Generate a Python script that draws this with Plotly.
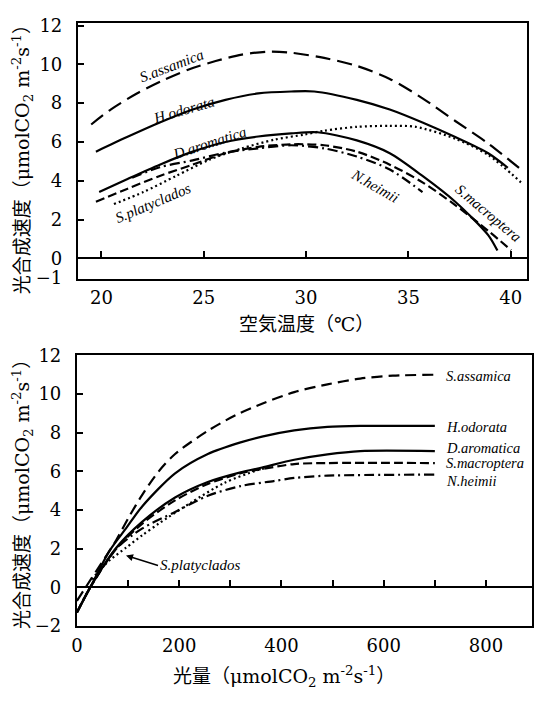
import plotly.graph_objects as go

W, H = 534, 702

# ---------------- data: temperature response (top) ----------------
t_assamica_x = [19.5, 20.45, 21.73, 23.0, 24.3, 25.58, 26.86, 28.14, 29.27, 30.88, 32.48, 34.09, 35.69, 37.29, 38.9, 40.5]
t_assamica_y = [6.9, 7.67, 8.5, 9.17, 9.75, 10.17, 10.5, 10.65, 10.6, 10.33, 9.92, 9.25, 8.25, 7.08, 5.92, 4.58]

t_odorata_x = [19.73, 21.25, 22.85, 24.46, 26.06, 27.66, 29.27, 30.4, 32.48, 34.09, 35.69, 37.29, 38.9, 39.86]
t_odorata_y = [5.5, 6.25, 7.0, 7.67, 8.17, 8.5, 8.6, 8.6, 8.17, 7.67, 7.0, 6.25, 5.42, 4.67]

t_aromatica_x = [19.89, 21.25, 22.85, 24.46, 26.06, 27.66, 29.27, 30.56, 32.48, 34.09, 35.69, 37.29, 38.9, 39.35]
t_aromatica_y = [3.42, 4.08, 4.83, 5.5, 6.0, 6.28, 6.44, 6.5, 6.08, 5.42, 4.25, 2.92, 1.2, 0.4]

t_macroptera_x = [19.73, 21.25, 22.85, 24.46, 26.06, 27.66, 29.27, 30.88, 32.48, 34.09, 35.69, 37.29, 38.9, 40.02]
t_macroptera_y = [2.92, 3.58, 4.25, 4.83, 5.42, 5.75, 5.88, 5.83, 5.5, 4.83, 3.92, 2.75, 1.42, 0.42]

t_heimii_x = [21.5, 22.85, 24.46, 26.06, 27.66, 29.27, 30.88, 32.48, 34.09, 35.69]
t_heimii_y = [4.15, 4.7, 5.05, 5.45, 5.67, 5.83, 5.67, 5.25, 4.58, 3.42]

t_platyclados_x = [20.61, 22.05, 23.65, 25.26, 26.86, 28.46, 29.9, 30.88, 32.48, 34.09, 35.36, 37.29, 38.9, 40.5]
t_platyclados_y = [2.8, 3.42, 4.25, 5.08, 5.67, 6.12, 6.38, 6.58, 6.78, 6.83, 6.78, 6.17, 5.33, 3.92]

# ---------------- data: light response (bottom) ----------------
l_assamica_x = [0, 17, 48, 77, 103, 128, 160, 192, 256, 310, 362, 425, 490, 554, 618, 700]
l_assamica_y = [-0.7, 0.0, 1.25, 2.45, 3.7, 4.8, 6.0, 6.9, 8.1, 8.9, 9.5, 10.1, 10.5, 10.8, 10.95, 11.0]

l_odorata_x = [0, 26, 64, 96, 128, 192, 256, 320, 362, 425, 490, 554, 700]
l_odorata_y = [-1.3, 0.0, 1.9, 3.05, 4.2, 5.9, 6.9, 7.5, 7.8, 8.12, 8.3, 8.35, 8.35]

l_aromatica_x = [0, 26, 77, 128, 192, 256, 320, 362, 425, 490, 554, 700]
l_aromatica_y = [-1.3, 0.0, 2.05, 3.4, 4.65, 5.45, 5.95, 6.2, 6.6, 6.88, 7.05, 7.05]

l_macroptera_x = [0, 26, 77, 128, 192, 256, 320, 362, 425, 490, 700]
l_macroptera_y = [-1.3, 0.0, 2.0, 3.3, 4.5, 5.35, 5.9, 6.12, 6.38, 6.43, 6.43]

l_heimii_x = [0, 26, 77, 128, 192, 256, 320, 385, 425, 490, 700]
l_heimii_y = [-1.3, 0.0, 2.0, 3.05, 3.9, 4.74, 5.24, 5.5, 5.66, 5.78, 5.83]

l_platyclados_x = [30, 38, 64, 96, 128, 160, 224, 288, 352, 380]
l_platyclados_y = [0.4, 0.7, 1.4, 2.05, 2.7, 3.3, 4.4, 5.4, 6.05, 6.25]

# tick labels
t_xticks = [20, 25, 30, 35, 40]
t_yticks = [-1, 0, 2, 4, 6, 8, 10, 12]
l_xticks = [0, 200, 400, 600, 800]
l_xminor = [100, 200, 300, 400, 500, 600, 700, 800]
l_yticks = [-2, 0, 2, 4, 6, 8, 10, 12]

t_xrange = [18.85, 40.8]
t_yrange = [-1.05, 12.15]
l_xrange = [0, 890]
l_yrange = [-2, 12]

# ---------------- styles ----------------
LW = 2.2
styles = {
    "assamica_t": dict(dash="15px,7px"),
    "assamica_l": dict(dash="11px,6px"),
    "odorata": dict(dash="solid"),
    "aromatica": dict(dash="solid"),
    "macroptera": dict(dash="9px,4px"),
    "heimii": dict(dash="10px,4px,2px,4px"),
    "platyclados": dict(dash="2px,3px"),
}

fig = go.Figure()

def add(x, y, st, xa, ya):
    fig.add_trace(go.Scatter(x=x, y=y, mode="lines", xaxis=xa, yaxis=ya,
                             line=dict(color="black", width=LW, shape="spline",
                                       smoothing=0.8, **st),
                             hoverinfo="skip", showlegend=False))

add(t_assamica_x, t_assamica_y, styles["assamica_t"], "x", "y")
add(t_odorata_x, t_odorata_y, styles["odorata"], "x", "y")
add(t_aromatica_x, t_aromatica_y, styles["aromatica"], "x", "y")
add(t_macroptera_x, t_macroptera_y, styles["macroptera"], "x", "y")
add(t_heimii_x, t_heimii_y, styles["heimii"], "x", "y")
add(t_platyclados_x, t_platyclados_y, styles["platyclados"], "x", "y")

add(l_assamica_x, l_assamica_y, styles["assamica_l"], "x2", "y2")
add(l_odorata_x, l_odorata_y, styles["odorata"], "x2", "y2")
add(l_aromatica_x, l_aromatica_y, styles["aromatica"], "x2", "y2")
add(l_macroptera_x, l_macroptera_y, styles["macroptera"], "x2", "y2")
add(l_heimii_x, l_heimii_y, styles["heimii"], "x2", "y2")
add(l_platyclados_x, l_platyclados_y, styles["platyclados"], "x2", "y2")

# invisible traces that register the thin tick-strip subplots on the zero lines
fig.add_trace(go.Scatter(x=t_xticks, y=[0.5] * len(t_xticks), mode="markers",
                         marker=dict(opacity=0, size=1), xaxis="x3", yaxis="y3",
                         showlegend=False, hoverinfo="skip"))
fig.add_trace(go.Scatter(x=l_xminor, y=[0.5] * len(l_xminor), mode="markers",
                         marker=dict(opacity=0, size=1), xaxis="x4", yaxis="y4",
                         showlegend=False, hoverinfo="skip"))

# domains
tx_dom = [73 / W, 529 / W]
ty_dom = [1 - 276 / H, 1 - 12 / H]
lx_dom = [72 / W, 1.0]
ly_dom = [1 - 634 / H, 1 - 355 / H]

def zero_pos(dom, rng):
    return dom[0] + (0 - rng[0]) / (rng[1] - rng[0]) * (dom[1] - dom[0])

tz = zero_pos(ty_dom, t_yrange)
lz = zero_pos(ly_dom, l_yrange)

NUMF = dict(family="DejaVu Serif", size=18, color="black")

base_axis = dict(showline=True, mirror=True, linewidth=2, linecolor="black",
                 showgrid=False, tickfont=NUMF)

strip_x = dict(ticks="inside", ticklen=7, tickwidth=2, tickcolor="black",
               showticklabels=False, showline=False, showgrid=False, zeroline=False)
strip_y = dict(range=[0, 1], visible=False, showgrid=False, zeroline=False)

fig.update_layout(
    width=W, height=H, margin=dict(l=0, r=0, t=0, b=0),
    paper_bgcolor="white", plot_bgcolor="rgba(0,0,0,0)", showlegend=False,
    xaxis=dict(domain=tx_dom, range=t_xrange, anchor="y", tickvals=t_xticks,
               ticks="", zeroline=False, ticklabelstandoff=2, **base_axis),
    yaxis=dict(domain=ty_dom, range=t_yrange, anchor="x", tickvals=t_yticks,
               ticks="inside", ticklen=6, tickwidth=2, tickcolor="black",
               zeroline=True, zerolinewidth=2, zerolinecolor="black",
               ticklabelstandoff=10, **base_axis),
    xaxis3=dict(domain=tx_dom, range=t_xrange, anchor="y3", tickvals=t_xticks, **strip_x),
    yaxis3=dict(domain=[tz, tz + 0.015], anchor="x3", **strip_y),
    xaxis2=dict(domain=lx_dom, range=l_xrange, anchor="y2", tickvals=l_xticks,
                ticks="", zeroline=False, ticklabelstandoff=2, **base_axis),
    yaxis2=dict(domain=ly_dom, range=l_yrange, anchor="x2", tickvals=l_yticks,
                ticks="inside", ticklen=6, tickwidth=2, tickcolor="black",
                zeroline=True, zerolinewidth=2, zerolinecolor="black",
                ticklabelstandoff=10, **base_axis),
    xaxis4=dict(domain=lx_dom, range=l_xrange, anchor="y4", tickvals=l_xminor, **strip_x),
    yaxis4=dict(domain=[lz, lz + 0.015], anchor="x4", **strip_y),
)

LAB = dict(family="Liberation Serif", size=15, color="black", style="italic")
LAB2 = dict(family="Liberation Serif", size=14.5, color="black", style="italic")
TIT = dict(family="DejaVu Serif, Noto Sans CJK JP", size=19, color="black")

ann = []
# top chart curve labels
for txt, x, y, ang in [("S.assamica", 23.41, 9.92, -21),
                       ("H.odorata", 24.0, 7.67, -16),
                       ("D.aromatica", 25.26, 5.95, -18),
                       ("S.platyclados", 22.53, 2.83, -23),
                       ("N.heimii", 33.37, 3.75, 30),
                       ("S.macroptera", 38.9, 2.33, 40)]:
    ann.append(dict(text=txt, x=x, y=y, xref="x", yref="y", showarrow=False,
                    textangle=ang, font=LAB, xanchor="center", yanchor="middle"))
# bottom chart curve labels
for txt, y in [("S.assamica", 10.94), ("H.odorata", 8.27), ("D.aromatica", 7.22),
               ("S.macroptera", 6.42), ("N.heimii", 5.5)]:
    ann.append(dict(text=txt, x=718, y=y, xref="x2", yref="y2", showarrow=False,
                    xanchor="left", yanchor="middle", font=LAB2))
ann.append(dict(text="S.platyclados", x=96, y=1.65, xref="x2", yref="y2",
                showarrow=True, ax=32, ay=10, xanchor="left", yanchor="middle",
                arrowhead=2, arrowsize=1, arrowwidth=1.4, arrowcolor="black", font=LAB))

# axis titles
ann.append(dict(text="空気温度（℃）", x=305 / W, y=1 - 323 / H, xref="paper", yref="paper",
                xanchor="center", yanchor="middle", showarrow=False, font=TIT))
ann.append(dict(text="光量（μmolCO<sub>2</sub> m<sup>-2</sup>s<sup>-1</sup>）", x=282 / W, y=1 - 686 / H,
                xref="paper", yref="paper", xanchor="center", yanchor="middle",
                showarrow=False, font=TIT))
for yc in (148, 493):
    ann.append(dict(text="光合成速度（μmolCO<sub>2</sub> m<sup>-2</sup>s<sup>-1</sup>）",
                    x=17 / W, y=1 - yc / H, xref="paper", yref="paper",
                    xanchor="center", yanchor="middle",
                    showarrow=False, textangle=-90, font=TIT))

fig.update_layout(annotations=ann)
fig.write_html("out.html")
